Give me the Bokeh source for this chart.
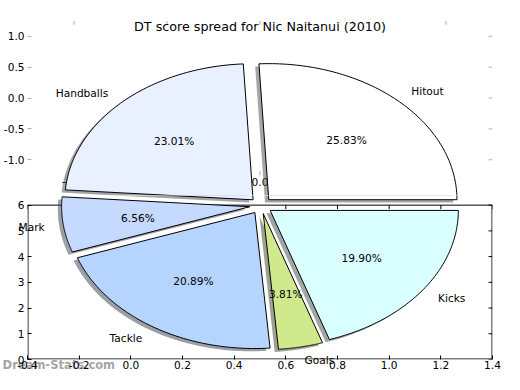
import math
import numpy as np
from bokeh.plotting import figure
from bokeh.layouts import column
from bokeh.models import (Range1d, LinearAxis, FixedTicker, CustomJSTickFormatter,
                          BoxAnnotation)
from bokeh.core.properties import value
from bokeh.embed import file_html
from bokeh.resources import INLINE

# ---------------- data ----------------
title_text = "DT score spread for Nic Naitanui (2010)"
categories = ["Hitout", "Handballs", "Mark", "Tackle", "Goals", "Kicks"]
percentages = [25.83, 23.01, 6.56, 20.89, 3.81, 19.90]
slice_colors = ["#ffffff", "#e9f0ff", "#c6d9ff", "#b5d4ff", "#d1e98d", "#d9ffff"]
x_ticks = [-0.4, -0.2, 0.0, 0.2, 0.4, 0.6, 0.8, 1.0, 1.2, 1.4]
y_ticks = [0, 1, 2, 3, 4, 5, 6]
pie_ticks = [-1.0, -0.5, 0.0, 0.5, 1.0]
watermark_text = "Dream-Stats.com"

# ---------------- layout constants ----------------
W, H = 504, 374
SY, OY = 0.965, 2.0          # vertical squeeze of the reference layout


def vy(py):
    return py * SY + OY


FRAME_L = 25
FRAME_R = 492
SPLIT = round(vy(200))
TOP_FRAME_T = round(vy(19))
BOT_FRAME_B = round(vy(370))
Y6_PX = vy(210)
PIE0_PX = vy(99)
PIE_PPU = 64 * SY
FONT = "DejaVu Sans"
FS = "10.6px"
GRAY_TICK = "#b0b0b0"
TICK_LEN = 4

XMIN, XMAX = x_ticks[0], x_ticks[-1]
YMIN, YTOP = y_ticks[0], y_ticks[-1]
ppu_x = (FRAME_R - FRAME_L) / (XMAX - XMIN)
ppu_y = (BOT_FRAME_B - Y6_PX) / (YTOP - YMIN)
y_split = YMIN + (BOT_FRAME_B - SPLIT) / ppu_y
y_top = YMIN + (BOT_FRAME_B - TOP_FRAME_T) / ppu_y
PIE_X_HALF = 1.25
PIE_Y_TOP = 1.25
pie_ppu_x = (FRAME_R - FRAME_L) / (2 * PIE_X_HALF)


def px_to_x(px):
    return XMIN + (px - FRAME_L) / ppu_x


def px_to_y(py):
    return YMIN + (BOT_FRAME_B - vy(py)) / ppu_y


def px_to_pie_y(py):
    return (PIE0_PX - vy(py)) / PIE_PPU


# pie geometry (style / position constants)
cx, cy = px_to_x(259.5), px_to_y(210.5)
rx, ry = 189 / ppu_x, 141 * SY / ppu_y
EXPLODE = 0.06
SHADOW = 0.02
LABEL_R = 1.1
PCT_R = 0.6

# wedge geometry from the percentages
bounds = np.concatenate([[0.0], np.cumsum(percentages)]) / sum(percentages) * 360.0
wedge_xs, wedge_ys, shadow_xs, shadow_ys, shadow_cols = [], [], [], [], []
lab_x, lab_y, lab_t, lab_a = [], [], [], []
for i, (cat, pct) in enumerate(zip(categories, percentages)):
    t1, t2 = bounds[i], bounds[i + 1]
    mid = math.radians((t1 + t2) / 2)
    ox, oy = EXPLODE * rx * math.cos(mid), EXPLODE * ry * math.sin(mid)
    a = np.linspace(math.radians(t1), math.radians(t2), 90)
    xs = [cx + ox] + list(cx + ox + rx * np.cos(a)) + [cx + ox]
    ys = [cy + oy] + list(cy + oy + ry * np.sin(a)) + [cy + oy]
    wedge_xs.append(xs)
    wedge_ys.append(ys)
    shadow_xs.append([v - SHADOW * rx for v in xs])
    shadow_ys.append([v - SHADOW * ry for v in ys])
    h = slice_colors[i].lstrip("#")
    r, g, b = (int(h[k:k + 2], 16) for k in (0, 2, 4))
    shadow_cols.append("#%02x%02x%02x" % (int(0.3 * r), int(0.3 * g), int(0.3 * b)))
    lab_x.append(cx + ox + LABEL_R * rx * math.cos(mid))
    lab_y.append(cy + oy + LABEL_R * ry * math.sin(mid))
    lab_t.append(cat)
    lab_a.append("left" if math.cos(mid) > 0 else "right")
    lab_x.append(cx + ox + PCT_R * rx * math.cos(mid))
    lab_y.append(cy + oy + PCT_R * ry * math.sin(mid))
    lab_t.append("%.2f%%" % pct)
    lab_a.append("center")


def base_fig(height, y0, y1, btop, bbot):
    p = figure(width=W, height=height, x_range=Range1d(XMIN, XMAX),
               y_range=Range1d(y0, y1), output_backend="svg", toolbar_location=None,
               min_border_left=FRAME_L, min_border_right=W - FRAME_R,
               min_border_top=btop, min_border_bottom=bbot,
               x_axis_location=None, y_axis_location=None)
    p.outline_line_color = None
    p.background_fill_color = "white"
    p.border_fill_color = "white"
    for g in p.grid:
        g.visible = False
    return p


def style_axis(ax, color, fmt, standoff=3):
    ax.axis_line_color = None
    ax.major_tick_in = TICK_LEN
    ax.major_tick_out = 0
    ax.minor_tick_in = 0
    ax.minor_tick_out = 0
    ax.major_tick_line_color = color
    ax.minor_tick_line_color = None
    ax.major_label_standoff = standoff
    ax.major_label_text_font = FONT
    ax.major_label_text_font_size = FS
    ax.major_label_text_color = "black"
    ax.formatter = CustomJSTickFormatter(code="return tick.toFixed(%d)" % fmt)


def draw_pie(p):
    p.patches(shadow_xs, shadow_ys, fill_color=shadow_cols, fill_alpha=0.5, line_color=None)
    p.patches(wedge_xs, wedge_ys, fill_color=slice_colors, line_color="black", line_width=1)


def draw_labels(p, keep):
    idx = [k for k in range(len(lab_t)) if keep(lab_y[k])]
    p.text(x=[lab_x[k] for k in idx], y=[lab_y[k] for k in idx],
           text=[lab_t[k] for k in idx], text_align=[lab_a[k] for k in idx],
           text_baseline="middle", text_font=value(FONT), text_font_size=value(FS),
           text_color="black", level="overlay")


# ---------------- upper figure (pie axes) ----------------
top = base_fig(SPLIT, y_split, y_top, TOP_FRAME_T, 0)
top.extra_x_ranges = {"pie_x": Range1d(-PIE_X_HALF, PIE_X_HALF)}
top.extra_y_ranges = {"pie_y": Range1d((PIE0_PX - SPLIT) / PIE_PPU,
                                       (PIE0_PX - TOP_FRAME_T) / PIE_PPU)}
ax = LinearAxis(y_range_name="pie_y", ticker=FixedTicker(ticks=pie_ticks))
style_axis(ax, GRAY_TICK, 1)
top.add_layout(ax, "left")

n = len(pie_ticks)
# tick marks on the right, top and bottom edges of the pie axes
top.segment(x0=[PIE_X_HALF] * n, y0=pie_ticks, x1=[PIE_X_HALF - TICK_LEN / pie_ppu_x] * n,
            y1=pie_ticks, x_range_name="pie_x", y_range_name="pie_y", line_color=GRAY_TICK)
top.segment(x0=pie_ticks, y0=[PIE_Y_TOP] * n, x1=pie_ticks,
            y1=[PIE_Y_TOP - TICK_LEN / PIE_PPU] * n,
            x_range_name="pie_x", y_range_name="pie_y", line_color=GRAY_TICK)
top.segment(x0=pie_ticks, y0=[-PIE_Y_TOP] * n, x1=pie_ticks,
            y1=[-PIE_Y_TOP + TICK_LEN / PIE_PPU] * n,
            x_range_name="pie_x", y_range_name="pie_y", line_color=GRAY_TICK)
top.text(x=pie_ticks, y=[px_to_pie_y(186)] * n,
         text=[("%.1f" % t).replace("-", "\u2212") for t in pie_ticks],
         x_range_name="pie_x", y_range_name="pie_y", text_align="center",
         text_baseline="middle", text_font=value(FONT), text_font_size=value(FS),
         text_color="black")
draw_pie(top)
top.text(x=[0], y=[px_to_pie_y(25)], text=[title_text], x_range_name="pie_x",
         y_range_name="pie_y", text_align="center", text_baseline="middle",
         text_font=value(FONT), text_font_size=value("12.7px"), text_color="black",
         level="overlay")
draw_labels(top, lambda v: v > y_split)

# ---------------- lower figure ----------------
bot = base_fig(H - SPLIT, YMIN, y_split, 0, H - BOT_FRAME_B)
hx, hy = 0.5 / ppu_x, 0.5 / ppu_y
bot.add_layout(BoxAnnotation(left=XMIN + hx, right=XMAX - hx, bottom=YMIN + hy, top=YTOP,
                             fill_alpha=0, line_color="black", line_alpha=1.0,
                             line_width=1, level="underlay"))
ax = LinearAxis(ticker=FixedTicker(ticks=y_ticks))
style_axis(ax, "black", 0)
bot.add_layout(ax, "left")
ax = LinearAxis(ticker=FixedTicker(ticks=x_ticks))
style_axis(ax, "black", 1, standoff=1)
bot.add_layout(ax, "below")
bot.segment(x0=x_ticks, y0=[YTOP] * len(x_ticks), x1=x_ticks,
            y1=[YTOP - TICK_LEN / ppu_y] * len(x_ticks), line_color="black")
bot.segment(x0=[XMAX] * len(y_ticks), y0=y_ticks, x1=[XMAX - TICK_LEN / ppu_x] * len(y_ticks),
            y1=y_ticks, line_color="black")
bot.text(x=[px_to_x(0)], y=[px_to_y(376)], text=[watermark_text], text_align="left",
         text_baseline="middle", text_font=value(FONT), text_font_size=value("11.5px"),
         text_font_style="bold", text_color="#8c8c8c", text_alpha=0.8, level="guide")
draw_pie(bot)
draw_labels(bot, lambda v: v <= y_split)

layout = column(top, bot, spacing=0)
open("out.html", "w").write(file_html(layout, INLINE))
